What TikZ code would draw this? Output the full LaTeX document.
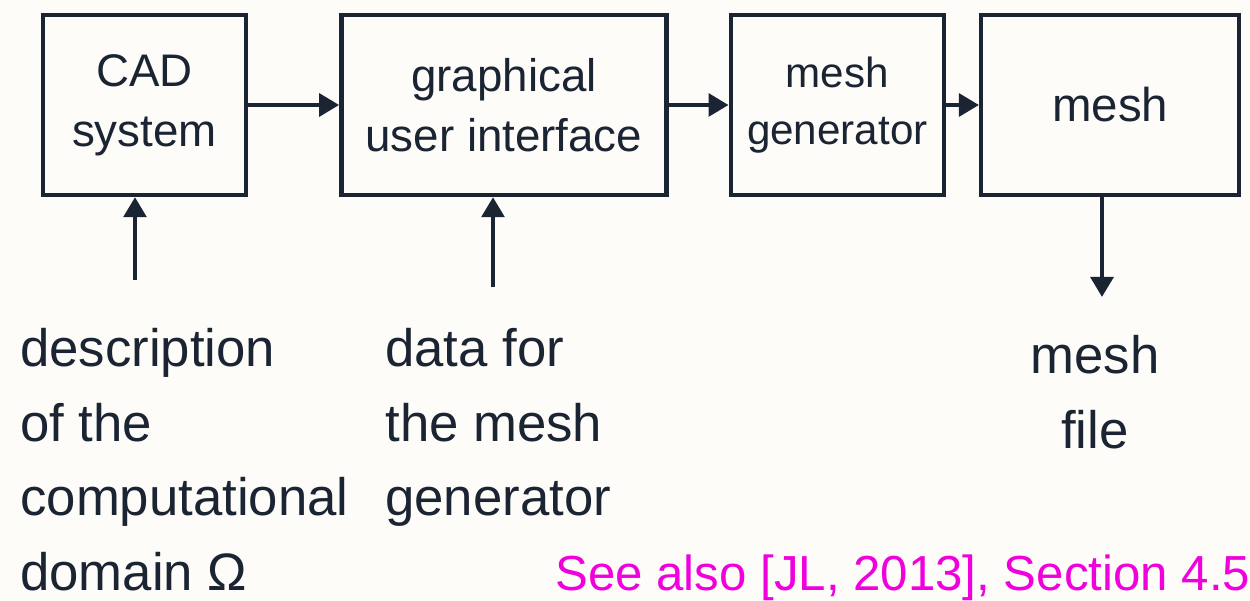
\documentclass[tikz,border=0pt]{standalone}
\usepackage{fontspec}
\setmainfont{Liberation Sans}
\usetikzlibrary{arrows.meta,positioning}
\definecolor{ink}{HTML}{1B2433}
\definecolor{remark}{HTML}{F000DC}
\definecolor{paper}{HTML}{FDFCF8}
\tikzset{
    block/.style={rectangle,draw=ink,line width=2.5pt,align=center,text=ink,minimum height=36mm},
    note/.style={align=left,text=ink,inner sep=0pt,font=\fontsize{30}{42.5}\selectfont},
    feed/.style={-{Triangle[length=4mm,width=4.5mm]},draw=ink,line width=2.5pt}
}

\begin{document}
\begin{tikzpicture}

                \fill[paper] (0,0) rectangle (25,-12.02);
                \useasboundingbox (0,0) rectangle (25,-12.02);

                \node[block] (cad) [minimum width=40.6mm,font=\fontsize{26}{34}\selectfont] at (2.89,-2.1) {CAD\\system};
                \node[block] (gui) [minimum width=65mm,font=\fontsize{26}{34}\selectfont,right=18.2mm of cad] {graphical\\user interface};
                \node[block] (meshgen) [minimum width=42.6mm,font=\fontsize{24}{32}\selectfont,right=12mm of gui] {mesh\\generator};
                \node[block] (mesh) [minimum width=51.6mm,font=\fontsize{27}{34}\selectfont,right=6.6mm of meshgen] {mesh};

                \draw[feed] (cad.east) -- (gui.west);
                \draw[feed] (gui.east) -- (meshgen.west);
                \draw[feed] (meshgen.east) -- (mesh.west);

                \coordinate (cad in)  at (2.7,-5.6);
                \coordinate (gui in)  at (9.86,-5.74);
                \coordinate (mesh out) at (22.04,-5.94);

                \draw[feed] (cad in) -- (cad in |- cad.south);
                \draw[feed] (gui in) -- (gui in |- gui.south);
                \draw[feed] (mesh.south -| mesh out) -- (mesh out);

                \node[note] (domain)   [anchor=north west] at (0.4,-6.56) {description\\of the\\computational\\domain Ω};
                \node[note] (data)     [anchor=north west] at (7.7,-6.56) {data for\\the mesh\\generator};
                \node[note] (meshfile) [anchor=north,align=center] at (21.9,-6.7) {mesh\\file};

                \node (see also) [anchor=base west,inner sep=0pt,text=remark,font=\fontsize{28}{32}\selectfont] at (11.1,-11.8) {See also [JL, 2013], Section 4.5};

            \end{tikzpicture}
\end{document}
